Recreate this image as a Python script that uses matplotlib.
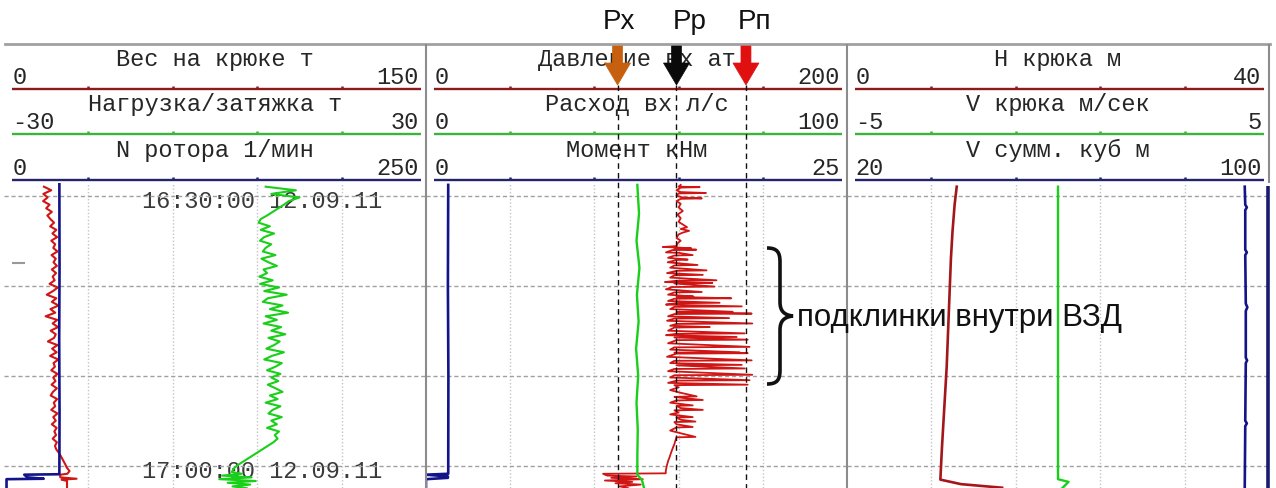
import matplotlib.pyplot as plt
from matplotlib.patches import FancyArrow, PathPatch
from matplotlib.path import Path

plt.rcParams['font.family'] = ['Liberation Mono', 'DejaVu Sans Mono']

FIG_W, FIG_H = 1276, 488

# time axis: minutes after 16:30:00 12.09.11, grows downwards
T_TOP, T_BOTTOM = -1.41, 32.48
GRID_T = [0, 10, 20, 30]
STAMP_T = [0, 30]
STAMPS = ["16:30:00 12.09.11", "17:00:00 12.09.11"]

# header scales, one row per curve in every track
TITLES = [["Вес на крюке т", "Нагрузка/затяжка т", "N ротора 1/мин"],
          ["Давление вх ат", "Расход вх л/с", "Момент кНм"],
          ["H крюка м", "V крюка м/сек", "V сумм. куб м"]]
SCALE_MIN = [[0, -30, 0], [0, 0, 0], [0, -5, 20]]
SCALE_MAX = [[150, 30, 250], [200, 100, 25], [40, 5, 100]]

# pressure levels marked with arrows
P_LABELS = ["Рх", "Рр", "Рп"]
P_LEVELS = [91, 119, 152]
P_COLORS = ['#C7600E', '#0A0A0A', '#E01010']

# track 1 shared sampling times (min)
T1 = [-1.0, -0.6, -0.2, 0.2, 0.6, 1.0, 1.4, 1.8, 2.2, 2.6,
      3.0, 3.4, 3.8, 4.2, 4.6, 5.0, 5.4, 5.8, 6.2, 6.6, 7.0, 7.4, 7.8, 8.2, 8.6, 9.0,
      9.4, 9.8, 10.2, 10.6, 11.0, 11.4, 11.8, 12.2, 12.6, 13.0, 13.4, 13.8, 14.2, 14.6,
      15.0, 15.4, 15.8, 16.2, 16.6, 17.0, 17.4, 17.8, 18.2, 18.6, 19.0, 19.4, 19.8, 20.2,
      20.6, 21.0, 21.4, 21.8, 22.2, 22.6, 23.0, 23.4, 23.8, 24.2, 24.6, 25.0, 25.4, 25.8,
      26.2, 26.6, 27.0, 27.4, 27.8,
      28.2, 28.6, 29.0, 29.4, 29.8, 30.2]

# Вес на крюке, т
WEIGHT = [14.2, 16.8, 14.0, 15.5, 13.9, 16.2, 15.0, 17.0, 15.4, 16.5,
          17.8, 16.4, 18.6, 17.2, 18.9, 16.8, 18.2, 17.5, 19.0, 16.9, 18.4, 17.6, 18.8, 17.0, 18.5, 17.3,
          18.0, 16.2, 19.1, 17.4, 15.2, 18.6, 17.0, 19.4, 16.5, 18.2, 14.8, 18.9, 17.3, 19.2,
          16.6, 18.4, 17.8, 15.6, 19.0, 17.1, 18.7, 16.4, 19.3, 17.6, 18.1, 16.8, 19.0, 17.5,
          18.3, 16.9, 18.8, 17.4, 16.6, 18.9, 17.7, 18.2, 16.8, 19.0, 17.5, 18.4, 17.0, 18.7,
          17.9, 18.5, 17.3, 18.8, 18.1,
          18.6, 19.6, 20.3, 21.0, 21.7, 22.3]
WEIGHT_TAIL_T = [30.6, 30.9, 31.0, 31.3, 31.45, 31.55, 31.7, 32.5]
WEIGHT_TAIL = [23.3, 22.5, 20.0, 20.0, 25.8, 20.5, 22.4, 22.4]

# Нагрузка/затяжка, т
LOAD = [7.2, 11.5, 8.0, 12.0, 10.5, 9.8, 9.0, 8.2, 7.4, 6.5,
        6.2, 7.8, 6.5, 8.4, 7.0, 6.4, 8.0, 7.2, 6.8, 8.6, 6.6, 7.6, 8.8, 6.9, 7.4, 6.3,
        8.2, 6.4, 9.1, 7.0, 10.2, 7.5, 6.8, 9.6, 7.8, 10.4, 7.2, 8.8, 6.9, 9.4,
        8.0, 10.0, 7.6, 9.2, 8.4, 7.3, 9.8, 8.1, 7.0, 9.5, 8.6, 7.4, 9.3, 8.0,
        9.0, 7.5, 8.6, 9.6, 7.8, 8.9, 7.2, 9.3, 8.2, 7.6, 9.5, 8.0, 8.8, 7.4,
        9.1, 8.5, 8.9, 8.3, 7.5,
        6.7, 5.9, 5.1, 4.3, 3.5, 2.8]
LOAD_TAIL_T = [30.4, 30.7, 30.9, 31.1, 31.3, 31.5, 31.7, 31.9, 32.1, 32.3, 32.5]
LOAD_TAIL = [2.6, 2.4, 3.8, 1.0, 5.2, 0.6, 5.8, 1.8, 5.0, 2.5, 4.5]

# N ротора, 1/мин
ROTOR_T = [-1.41, 8.0, 16.0, 24.0, 30.95, 31.0, 31.3, 31.45, 31.5, 32.5]
ROTOR = [32.8, 32.9, 32.7, 32.9, 32.8, 12.0, 14.0, 23.5, 1.5, 1.5]

# Давление вх, ат  (time, value)
PRESS_POINTS = [
    (-1.2, 121), (-1.0, 120), (-0.95, 130), (-0.9, 121), (-0.6, 119), (-0.4, 121),
    (-0.3, 133), (-0.25, 120), (0.0, 119), (0.2, 122), (0.3, 131), (0.35, 121),
    (0.6, 119), (0.9, 121), (1.3, 120), (1.7, 122), (2.1, 119.5), (2.5, 121),
    (2.9, 120), (3.2, 122), (3.5, 124), (3.7, 121), (3.9, 125), (4.1, 122),
    (4.3, 120), (4.7, 119), (5.0, 121), (5.3, 119.5),
    (5.6, 119), (5.7, 112.5), (5.75, 119), (5.85, 126), (5.9, 118),
    (6.0, 128.4), (6.05, 117), (6.3, 114), (6.35, 120), (6.6, 126.7), (6.65, 118),
    (6.9, 115), (7.1, 124.3), (7.15, 119), (7.4, 114.8), (7.7, 129), (7.75, 118),
    (8.0, 116), (8.3, 133.3), (8.35, 119), (8.6, 114.5), (8.8, 131.5), (8.85, 118),
    (9.1, 116), (9.4, 138), (9.45, 119), (9.6, 113.5), (9.7, 136), (9.75, 118),
    (10.1, 137), (10.15, 117), (10.4, 114), (10.7, 131), (10.75, 118), (11.0, 115),
    (11.2, 127), (11.25, 119), (11.4, 145), (11.45, 118), (11.7, 115), (11.9, 139.5),
    (11.95, 119), (12.1, 114), (12.3, 150), (12.35, 118), (12.6, 116), (12.9, 145.7),
    (12.95, 119), (13.1, 154.7), (13.15, 118), (13.4, 115), (13.6, 144), (13.65, 118),
    (13.9, 114.5), (14.2, 155), (14.25, 119), (14.45, 116), (14.6, 134.8), (14.65, 118),
    (15.0, 115), (15.3, 151.4), (15.35, 119), (15.5, 114), (15.7, 147.6), (15.75, 118),
    (16.0, 152.8), (16.05, 119), (16.4, 115), (16.8, 153.7), (16.85, 118), (17.1, 116),
    (17.4, 149), (17.45, 118), (17.5, 152.8), (17.55, 119), (17.9, 114.5), (18.3, 154.7),
    (18.35, 118), (18.6, 116), (18.8, 150), (18.85, 119), (19.2, 151.4), (19.25, 118),
    (19.5, 115), (19.9, 155), (19.95, 118), (20.2, 116), (20.5, 153.7), (20.55, 119),
    (20.8, 115), (21.0, 152.8), (21.05, 118),
    (21.3, 120), (21.6, 116), (21.9, 121), (22.3, 128.6), (22.35, 118), (22.5, 123),
    (22.7, 131.5), (22.75, 119), (23.0, 116), (23.3, 126.7), (23.35, 119), (23.6, 121),
    (23.8, 131.5), (23.85, 118), (24.1, 120), (24.3, 116), (24.6, 126.7), (24.65, 119),
    (24.9, 121), (25.1, 128), (25.15, 118), (25.4, 119), (25.7, 126.7), (25.75, 119),
    (26.1, 116), (26.4, 121), (26.8, 128), (26.85, 119), (27.2, 118.5), (27.6, 118),
    (28.0, 117.3), (28.5, 116.5), (29.0, 115.8), (29.5, 115.0), (30.0, 114.4),
    (30.6, 113.9), (30.85, 113.9),
    (30.9, 84.1), (31.1, 86), (31.2, 100), (31.35, 88), (31.5, 103), (31.65, 85),
    (31.8, 98), (31.95, 90), (32.1, 102), (32.3, 92), (32.5, 96),
]

# Расход вх, л/с
FLOW_T = [-1.2, 2, 5, 8, 11, 14, 17, 20, 23, 26, 29, 31.0, 31.6, 32.5]
FLOW = [50.2, 50.6, 50.0, 50.7, 50.1, 50.5, 49.9, 50.4, 50.0, 50.3, 50.2, 50.2, 51.3, 51.8]

# Момент, кНм
TORQUE_T = [-1.2, 10, 20, 30.9, 31.0, 31.2, 31.35, 31.5, 32.5]
TORQUE = [1.32, 1.30, 1.33, 1.32, 0.0, 1.3, 1.3, 0.0, 0.0]

# H крюка, м
HOOK_H_T = [-1.0, 1, 4, 7, 10, 13, 16, 19, 22, 25, 28, 31.55, 32.05, 32.45]
HOOK_H = [10.4, 10.2, 10.0, 9.85, 9.75, 9.65, 9.55, 9.45, 9.3, 9.15, 9.0, 8.85, 10.8, 14.7]

# V крюка, м/сек
HOOK_V_T = [-1.0, 31.5, 31.8, 32.5]
HOOK_V = [0.0, 0.0, 0.25, 0.1]

# V сумм., куб м
VOL_T = [-1.0, 1.0, 1.3, 1.6, 6.0, 6.3, 6.6, 12.0, 12.4, 12.8, 18.0, 18.3, 18.6,
         25.0, 25.3, 25.6, 32.5]
VOL = [95.4, 95.5, 95.8, 95.5, 95.5, 95.8, 95.5, 95.6, 95.9, 95.6, 95.6, 95.85, 95.6,
       95.5, 95.8, 95.5, 95.4]

# ---- layout (pixels) ----
TRACK_EDGES = [(4, 426), (426, 847), (847, 1269)]
HEADER_TOP, DATA_TOP = 44, 183
SCALE_Y = [89, 134, 180]
TICK_FRACS = [0.2, 0.4, 0.6, 0.8]
SCALE_COLORS = ['#8E1B1B', '#3CB43C', '#23236E']
RED, GREEN, BLUE = '#D01515', '#19CF19', '#14148A'

press_t = [p[0] for p in PRESS_POINTS]
press_v = [p[1] for p in PRESS_POINTS]

CURVES = [
    [(T1 + WEIGHT_TAIL_T, WEIGHT + WEIGHT_TAIL, RED, 1.5),
     (T1 + LOAD_TAIL_T, LOAD + LOAD_TAIL, GREEN, 1.5),
     (ROTOR_T, ROTOR, BLUE, 1.9)],
    [(press_t, press_v, RED, 1.3),
     (FLOW_T, FLOW, GREEN, 1.7),
     (TORQUE_T, TORQUE, BLUE, 1.9)],
    [(HOOK_H_T, HOOK_H, '#A3171B', 1.9),
     (HOOK_V_T, HOOK_V, GREEN, 1.7),
     (VOL_T, VOL, BLUE, 1.9)],
]


def rect(x0, y0, x1, y1):
    return [x0 / FIG_W, 1 - y1 / FIG_H, (x1 - x0) / FIG_W, (y1 - y0) / FIG_H]


fig = plt.figure(figsize=(FIG_W / 100, FIG_H / 100), dpi=100)

for i, (x0, x1) in enumerate(TRACK_EDGES):
    # header with the three scales
    hax = fig.add_axes(rect(x0, HEADER_TOP, x1, DATA_TOP))
    hax.set_xlim(0, 1)
    hax.set_ylim(DATA_TOP, HEADER_TOP)
    hax.axis('off')
    for j in range(3):
        y, c = SCALE_Y[j], SCALE_COLORS[j]
        hax.plot([0.019, 0.989], [y, y], color=c, lw=1.7, solid_capstyle='butt')
        hax.vlines(TICK_FRACS, y - 3.5, y, colors=c, lw=1.8)
        hax.text(0.5, y - 23, TITLES[i][j], ha='center', va='baseline',
                 fontsize=17, color='#262626')
        hax.text(0.02, y - 5, str(SCALE_MIN[i][j]), ha='left', va='baseline',
                 fontsize=17, color='#262626')
        hax.text(0.982, y - 5, str(SCALE_MAX[i][j]), ha='right', va='baseline',
                 fontsize=17, color='#262626')

    # data area
    dax = fig.add_axes(rect(x0, DATA_TOP, x1, FIG_H))
    dax.set_xlim(0, 1)
    dax.set_ylim(T_BOTTOM, T_TOP)
    dax.axis('off')
    for f in TICK_FRACS:
        dax.axvline(f, color='#C4C4C4', lw=1, ls=(0, (1, 1.5)))
    for t in GRID_T:
        dax.axhline(t, color='#A0A0A0', lw=1, ls=(0, (3, 2)))
    if i == 0:
        for t, s in zip(STAMP_T, STAMPS):
            dax.text(0.327, t + 1.37, s, transform=dax.get_yaxis_transform(),
                     ha='left', va='baseline', fontsize=17, color='#3A3A3A', zorder=1)
        dax.hlines(7.5, 0.019, 0.05, transform=dax.get_yaxis_transform(),
                   colors='#999999', lw=1.5)

    for j, (tt, vv, color, lw) in enumerate(CURVES[i]):
        cax = dax.twiny()
        cax.set_xlim(SCALE_MIN[i][j], SCALE_MAX[i][j])
        cax.axis('off')
        cax.plot(vv, tt, color=color, lw=lw)

# frame lines
frame = fig.add_axes([0, 0, 1, 1], zorder=10)
frame.set_xlim(0, FIG_W)
frame.set_ylim(FIG_H, 0)
frame.axis('off')
frame.plot([5, 1270], [HEADER_TOP, HEADER_TOP], color='#A0A0A0', lw=2)
frame.vlines([426, 847], HEADER_TOP, FIG_H, colors='#8C8C8C', lw=1.5)
frame.vlines(1269, HEADER_TOP, DATA_TOP, colors='#8C8C8C', lw=1.5)
frame.vlines(1268, DATA_TOP + 3, FIG_H, colors='#1A1A6E', lw=2.6)

# brace and comment
brace = Path([(767, 248), (777, 248), (780, 252), (780, 262),
              (780, 302),
              (780, 311), (784, 315), (793, 316),
              (784, 317), (780, 321), (780, 330),
              (780, 370),
              (780, 380), (777, 384), (767, 384)],
             [Path.MOVETO, Path.CURVE4, Path.CURVE4, Path.CURVE4,
              Path.LINETO,
              Path.CURVE4, Path.CURVE4, Path.CURVE4,
              Path.CURVE4, Path.CURVE4, Path.CURVE4,
              Path.LINETO,
              Path.CURVE4, Path.CURVE4, Path.CURVE4])
frame.add_patch(PathPatch(brace, fill=False, lw=2.6, color='#111111'))
frame.text(797, 318, "подклинки внутри ВЗД", ha='left', va='center',
           fontsize=22.5, family=['Liberation Sans', 'DejaVu Sans'], color='#111111')

# pressure markers on track 2 scale
pax = fig.add_axes(rect(426, 0, 847, FIG_H), zorder=11)
pax.set_xlim(SCALE_MIN[1][0], SCALE_MAX[1][0])
pax.set_ylim(FIG_H, 0)
pax.axis('off')
px_unit = (SCALE_MAX[1][0] - SCALE_MIN[1][0]) / (847 - 426)
pax.vlines(P_LEVELS, 85, FIG_H, colors='#111111', lw=1, linestyles=(0, (4, 3)))
label_dx = [1, 13, 9]
for lvl, lab, col, dx in zip(P_LEVELS, P_LABELS, P_COLORS, label_dx):
    pax.add_patch(FancyArrow(lvl, 46, 0, 39, width=10 * px_unit, head_width=26 * px_unit,
                             head_length=22, length_includes_head=True,
                             color=col, ec=col, lw=0.5))
    pax.text(lvl + dx * px_unit, 22, lab, ha='center', va='center', fontsize=20,
             family=['Liberation Sans', 'DejaVu Sans'], color='#111111')

fig.savefig('out.png', dpi=100, facecolor='white')
